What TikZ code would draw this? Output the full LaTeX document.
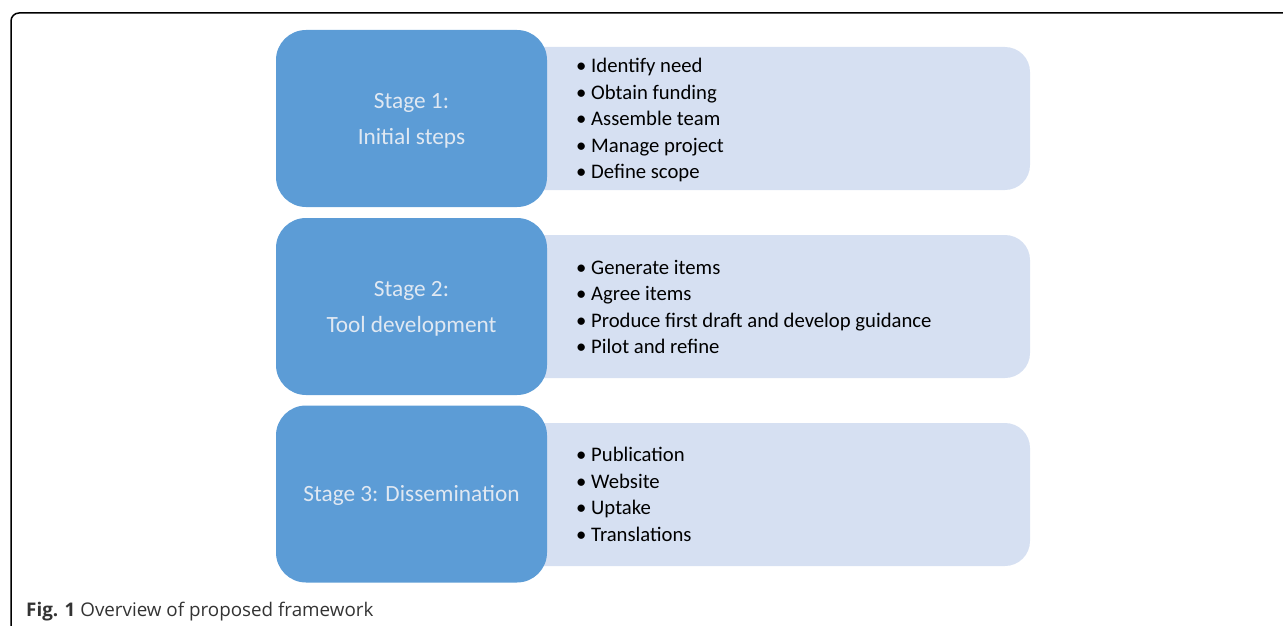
\documentclass[tikz,border=0pt]{standalone}
\usepackage{fontspec}
\setmainfont{Carlito}
\newfontfamily\capfont{Open Sans}
\definecolor{wwbbdd}{rgb}{0.36,0.61,0.84}
\definecolor{ddeeff}{rgb}{0.84,0.88,0.95}
\definecolor{eeeeff}{rgb}{0.88,0.91,0.95}
\definecolor{zzzzzz}{rgb}{0.2,0.2,0.2}
\begin{document}
\begin{tikzpicture}[line cap=round,line join=round,x=1pt,y=-1pt,
  stagebox/.style={fill=wwbbdd,rounded corners=30pt,minimum width=271pt,minimum height=177pt,inner sep=0pt},
  stagetext/.style={text=eeeeff,align=center,font=\fontsize{23.3}{35.5}\selectfont,inner sep=0pt},
  itembox/.style={fill=ddeeff,rounded corners=25pt,minimum width=530pt,minimum height=143pt,inner sep=0pt},
  itemlist/.style={anchor=west,align=left,font=\fontsize{20.7}{26.5}\selectfont,inner sep=0pt}]
\useasboundingbox (0,0) rectangle (1283,626);
\clip (0,0) rectangle (1283,626);
%frame
\draw[line width=1.5pt,rounded corners=8pt] (1300,13) -- (11,13) -- (11,650);
%item boxes behind the stages
\node[itembox] (items1) at (765,118.5) {};
\node[itembox] (items2) at (765,306.5) {};
\node[itembox] (items3) at (765,494.5) {};
\node[stagebox] (stage1) at (411.5,118.5) {};
\node[stagebox] (stage2) at (411.5,306.5) {};
\node[stagebox] (stage3) at (411.5,494) {};
\node[stagetext] (title1) at (411.5,121) {Stage 1:\\Initial steps};
\node[stagetext] (title2) at (411.5,309) {Stage 2:\\Tool development};
\node[stagetext] (title3) at (411.5,495.5) {Stage 3: Dissemination};
\node[itemlist] (list1) at (576,120) {\textbullet\ Identify need\\\textbullet\ Obtain funding\\\textbullet\ Assemble team\\\textbullet\ Manage project\\\textbullet\ Define scope};
\node[itemlist] (list2) at (576,307) {\textbullet\ Generate items\\\textbullet\ Agree items\\\textbullet\ Produce first draft and develop guidance\\\textbullet\ Pilot and refine};
\node[itemlist] (list3) at (576,494.5) {\textbullet\ Publication\\\textbullet\ Website\\\textbullet\ Uptake\\\textbullet\ Translations};
\node[anchor=base west,inner sep=0pt,text=zzzzzz,font=\capfont\fontsize{18.8}{22}\selectfont] (caption) at (26,616) {\textbf{Fig. 1} Overview of proposed framework};
\end{tikzpicture}
\end{document}
